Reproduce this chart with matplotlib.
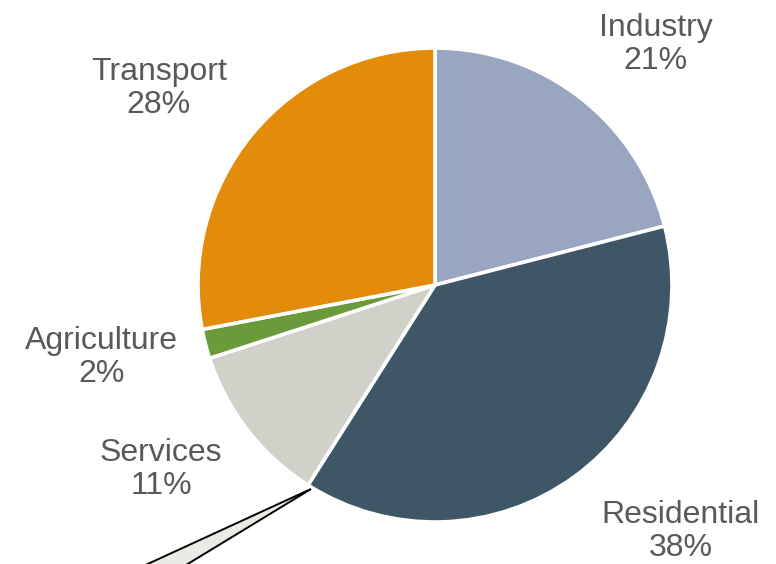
import matplotlib
matplotlib.use("Agg")
import matplotlib.pyplot as plt
from matplotlib.patches import Polygon

# Final energy consumption by sector (%)
sectors = ["Industry", "Residential", "Services", "Agriculture", "Transport"]
shares = [21, 38, 11, 2, 28]
colors = ["#98a7bf", "#3f5666", "#d1d0c9", "#6b9a3b", "#e38b0b"]

# label centres in pie-radius units (pie centred at origin, radius 1)
label_pos = [(0.932, 1.015), (1.035, -1.04), (-1.155, -0.78), (-1.408, -0.305), (-1.165, 0.83)]

W, H = 776, 564
cx, cy, R = 435, 285, 237

plt.rcParams["font.family"] = ["Liberation Sans", "DejaVu Sans"]
fig = plt.figure(figsize=(W / 100, H / 100), dpi=100)
ax = fig.add_axes([0, 0, 1, 1])

ax.pie(shares, colors=colors, startangle=90, counterclock=False,
       wedgeprops=dict(edgecolor="white", linewidth=2.6))

ax.set_xlim(-cx / R, (W - cx) / R)
ax.set_ylim((cy - H) / R, cy / R)
ax.set_aspect("equal")
ax.axis("off")

for name, val, (x, y) in zip(sectors, shares, label_pos):
    ax.text(x, y, f"{name}\n{val}%", ha="center", va="center",
            fontsize=23, color="#595959", linespacing=1.12)

# callout pointer leaving the bottom of the figure
tip = ((311 - cx) / R, (cy - 489) / R)
left = ((115 - cx) / R, (cy - 579) / R)
right = ((163 - cx) / R, (cy - 579) / R)
ax.add_patch(Polygon([tip, left, right], closed=True, facecolor="#ebebe6",
                     edgecolor="black", linewidth=1.4, clip_on=True))

fig.savefig("out.png", dpi=100)
